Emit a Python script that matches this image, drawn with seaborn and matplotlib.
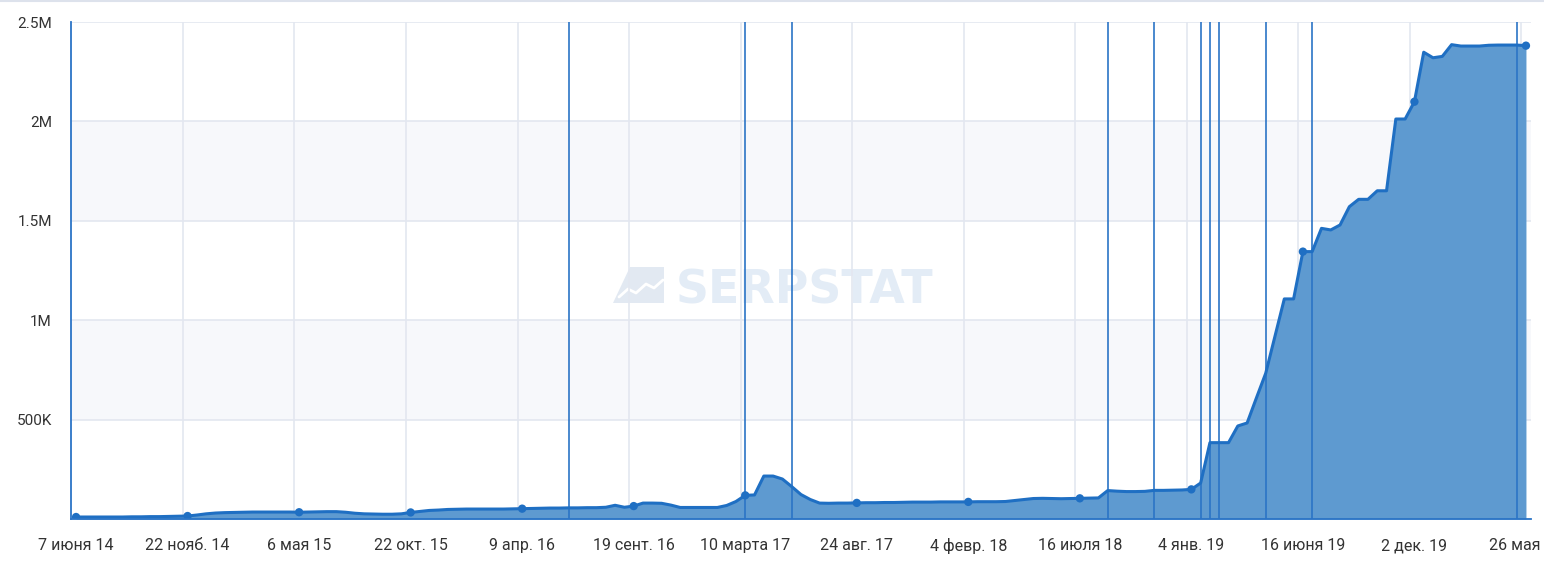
import numpy as np
import pandas as pd
import matplotlib
matplotlib.use("Agg")
import matplotlib.pyplot as plt
import seaborn as sns
from matplotlib.lines import Line2D
from matplotlib.patches import Polygon

# ---- data (values in thousands, one point per category, ~biweekly) ----
visits_k = [
    10, 10, 10, 10, 10, 10, 11, 11, 12, 12, 13, 14,
    15, 20, 26, 30, 32, 33, 34, 35, 35, 35, 35, 35,
    34, 35, 36, 37, 37, 34, 29, 26, 25, 24, 24, 26,
    33, 38, 43, 45, 48, 49, 50, 50, 50, 50, 50, 51,
    52, 53, 54, 55, 55, 56, 56, 57, 57, 59, 69, 59,
    65, 80, 80, 79, 70, 58, 58, 58, 58, 58, 68, 88,
    119, 121, 216, 216, 201, 163, 123, 98, 80, 79, 80, 80,
    81, 82, 82, 83, 83, 84, 85, 85, 85, 86, 86, 86,
    86, 87, 87, 87, 88, 93, 98, 103, 104, 103, 102, 103,
    104, 105, 106, 143, 140, 138, 138, 139, 144, 144, 145, 146,
    149, 181, 384, 384, 384, 468, 483, 609, 733, 920, 1107, 1107,
    1345, 1345, 1462, 1454, 1479, 1571, 1608, 1608, 1651, 1651, 2012, 2012,
    2099, 2348, 2320, 2327, 2386, 2379, 2379, 2379, 2383, 2384, 2384, 2384,
    2381,
]
tick_labels = ["7 июня 14", "22 нояб. 14", "6 мая 15", "22 окт. 15", "9 апр. 16",
               "19 сент. 16", "10 марта 17", "24 авг. 17", "4 февр. 18", "16 июля 18",
               "4 янв. 19", "16 июня 19", "2 дек. 19", "26 мая 20"]
label_step = 12
event_points = [53, 72, 77, 111, 116, 121, 122, 123, 128, 133, 155]
y_ticks = [0, 500000, 1000000, 1500000, 2000000, 2500000]
y_tick_labels = ["", "500K", "1M", "1.5M", "2M", "2.5M"]

sns.set_theme(style="white")
plt.rcParams['font.family'] = ['Roboto', 'DejaVu Sans']

df = pd.DataFrame({"idx": np.arange(len(visits_k)),
                   "value": np.array(visits_k) * 1000})
n = len(df)

W, H = 1544, 567
fig = plt.figure(figsize=(W / 100, H / 100), dpi=100)
fig.patch.set_facecolor("white")

# watermark (behind the transparent axes)
wm_c = "#e3ecf6"
fig.text(805 / W, 1 - 303 / H, "SERPSTAT", ha="center", va="baseline",
         fontsize=33, fontweight="bold", color=wm_c, family="DejaVu Sans", zorder=0)
logo = [(630, 267), (664, 267), (664, 303), (613, 303)]
fig.add_artist(Polygon([(x / W, 1 - y / H) for x, y in logo], closed=True,
                       transform=fig.transFigure, facecolor="#e2e9f2", edgecolor="none",
                       zorder=0))
zig = [(619, 297), (628, 289), (636, 293), (646, 284), (654, 288), (663, 280)]
fig.add_artist(Line2D([x / W for x, _ in zig], [1 - y / H for _, y in zig],
                      transform=fig.transFigure, color="white", lw=2, zorder=0.5))

ax = fig.add_axes([71.4 / W, 48 / H, 1459.2 / W, 497 / H], zorder=2)
ax.patch.set_alpha(0)

grid_c = "#e3e7f0"
# alternating bands
ax.axhspan(1500000, 2000000, color="#f7f8fb", lw=0, zorder=0)
ax.axhspan(500000, 1000000, color="#f7f8fb", lw=0, zorder=0)
for yv in y_ticks[1:]:
    ax.axhline(yv, color=grid_c, lw=1.2, zorder=1)
for k in range(1, len(tick_labels)):
    ax.axvline(k * label_step - 0.5, color=grid_c, lw=1.2, zorder=1)

line_c = "#1f6fc3"
ax.fill_between(df["idx"], df["value"], 0, color="#5e9ad0", lw=0, zorder=2)
for e in event_points:
    ax.axvline(e, color="#2b74c6", lw=1.2, zorder=3)
sns.lineplot(data=df, x="idx", y="value", color=line_c, lw=2.2, ax=ax, zorder=4)
sns.scatterplot(data=df.iloc[::label_step], x="idx", y="value", color=line_c,
                s=36, edgecolor="none", ax=ax, zorder=5)

ax.set_xlim(-0.5, n - 0.5)
ax.set_ylim(0, 2500000)
ax.set_xlabel("")
ax.set_ylabel("")
ax.set_xticks(np.arange(0, n, label_step))
ax.set_xticklabels(tick_labels)
ax.set_yticks(y_ticks)
ax.set_yticklabels(y_tick_labels)
ax.tick_params(axis="x", length=0, pad=14, labelsize=11.5, colors="#333333")
ax.tick_params(axis="y", length=0, pad=14, labelsize=11, colors="#333333")

for s in ["top", "right"]:
    ax.spines[s].set_visible(False)
for s in ["left", "bottom"]:
    ax.spines[s].set_color("#2b74c6")
    ax.spines[s].set_linewidth(1.3)
    ax.spines[s].set_zorder(6)

# top separator line
fig.add_artist(Line2D([0, 1], [1 - 1 / H, 1 - 1 / H], transform=fig.transFigure,
                      color="#dde2ec", lw=1.5))

fig.savefig("out.png", dpi=100, facecolor="white")
